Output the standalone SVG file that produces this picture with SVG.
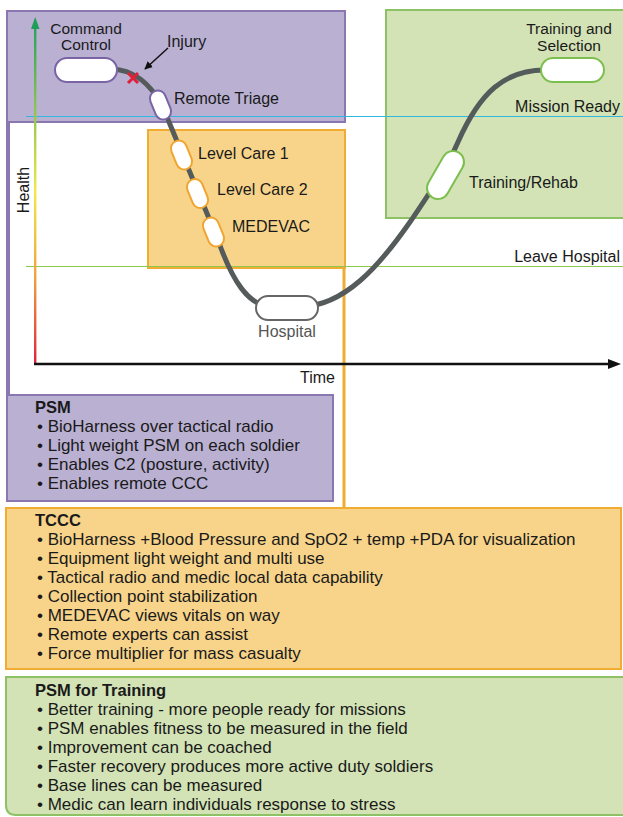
<svg xmlns="http://www.w3.org/2000/svg" width="623" height="817" viewBox="0 0 623 817">
<style>
text{font-family:"Liberation Sans",Arial,sans-serif;fill:#1a1a1a}
.lbl{font-size:16px}
.lbl2{font-size:15.5px}
.body{font-size:17px}
.ttl{font-size:16.5px;font-weight:bold}
.pur{fill:#b9b0d2;stroke:#8a77b1;stroke-width:2}
.org{fill:#f8d48a;stroke:#f1ac34;stroke-width:2}
.grn{fill:#d3e3b6;stroke:#8cc166;stroke-width:2}
.pill{fill:#fff;stroke-width:2}
.pp{stroke:#7a64a6}
.po{stroke:#f0a530}
.pg{stroke:#7cbf4e}
.ph{stroke:#666}
</style>
<defs>
<linearGradient id="ygrad" gradientUnits="userSpaceOnUse" x1="0" y1="18" x2="0" y2="365">
<stop offset="0" stop-color="#1f9e5a"/>
<stop offset="0.5" stop-color="#f0e84a"/>
<stop offset="0.75" stop-color="#f0a040"/>
<stop offset="1" stop-color="#e0203c"/>
</linearGradient>
<marker id="ah" viewBox="0 0 10 10" refX="9" refY="5" markerWidth="8" markerHeight="8" markerUnits="userSpaceOnUse" orient="auto">
<path d="M0,0 L10,5 L0,10 z" fill="#111"/>
</marker>
</defs>
<rect width="623" height="817" fill="#fff"/>
<g id="regions">
<rect class="pur" x="7" y="11" width="338" height="111"/>
<rect x="6" y="122" width="4" height="274" fill="#8a77b1"/>
<rect class="org" x="148" y="130" width="197" height="138"/>
<line x1="344" y1="268" x2="344" y2="509" stroke="#f1ac34" stroke-width="3"/>
<rect class="grn" x="386" y="10" width="240" height="208"/>
</g>
<g id="guides">
<line x1="26" y1="116.5" x2="623" y2="116.5" stroke="#30b8e0" stroke-width="1.2"/>
<line x1="26" y1="266.5" x2="623" y2="266.5" stroke="#8cc850" stroke-width="1.2"/>
<text class="lbl" x="620" y="112" text-anchor="end">Mission Ready</text>
<text class="lbl" x="620" y="262" text-anchor="end">Leave Hospital</text>
</g>
<g id="axes">
<rect x="34" y="26" width="2.4" height="339" fill="url(#ygrad)"/>
<path d="M35.2,17 L39.5,29 L31,29 z" fill="#1f9e5a"/>
<line x1="34" y1="364" x2="610" y2="364" stroke="#111" stroke-width="2.5"/>
<path d="M621,364 L608,359 L608,369 z" fill="#111"/>
<text class="lbl" transform="translate(29,190) rotate(-90)" text-anchor="middle">Health</text>
<text class="lbl" x="335" y="383" text-anchor="end">Time</text>
</g>
<g id="connectors">
<path d="M112,69 C135,70 150,84 162,105 L218,240 C232,280 248,306 272,307 L300,307 C345,306 380,265 410,222 C428,195 445,172 458,142 C480,92 505,70 545,70" fill="none" stroke="#555b5b" stroke-width="5"/>
<line x1="168" y1="48" x2="145" y2="69" stroke="#111" stroke-width="1.5" marker-end="url(#ah)"/>
<path d="M128,73 L138,83 M138,73 L128,83" stroke="#e0203a" stroke-width="3"/>
</g>
<g id="command-control">
<rect class="pill pp" x="55" y="58" width="62" height="24" rx="12"/>
<text class="lbl2" text-anchor="middle"><tspan x="86" y="34">Command</tspan><tspan x="86" y="50">Control</tspan></text>
</g>
<g id="injury">
<text class="lbl" x="167" y="47">Injury</text>
</g>
<g id="remote-triage">
<rect class="pill pp" x="-8" y="-15" width="16" height="30" rx="8" transform="translate(160.5,105) rotate(-22)"/>
<text class="lbl" x="174" y="104">Remote Triage</text>
</g>
<g id="level-care-1">
<rect class="pill po" x="-8" y="-15" width="16" height="30" rx="8" transform="translate(181.5,155) rotate(-22)"/>
<text class="lbl" x="198" y="159">Level Care 1</text>
</g>
<g id="level-care-2">
<rect class="pill po" x="-8" y="-15" width="16" height="30" rx="8" transform="translate(197.5,193.5) rotate(-22)"/>
<text class="lbl" x="217" y="195">Level Care 2</text>
</g>
<g id="medevac">
<rect class="pill po" x="-8" y="-15" width="16" height="30" rx="8" transform="translate(213.5,232) rotate(-22)"/>
<text class="lbl" x="232" y="232">MEDEVAC</text>
</g>
<g id="hospital">
<rect class="pill ph" x="256" y="296" width="62" height="24" rx="12"/>
<text class="lbl" x="287" y="337" text-anchor="middle" style="fill:#555">Hospital</text>
</g>
<g id="training-rehab">
<rect class="pill pg" x="-11" y="-26" width="22" height="52" rx="11" transform="translate(445.5,175) rotate(30)"/>
<text class="lbl" x="469" y="188">Training/Rehab</text>
</g>
<g id="training-selection">
<rect class="pill pg" x="541" y="58" width="63" height="24" rx="12"/>
<text class="lbl2" text-anchor="middle"><tspan x="569" y="34">Training and</tspan><tspan x="569" y="51">Selection</tspan></text>
</g>
<g id="psm">
<rect class="pur" x="7" y="395" width="326" height="106"/>
<text class="ttl" x="35" y="413">PSM</text>
<text class="body" x="37" y="432">• BioHarness over tactical radio</text>
<text class="body" x="37" y="451">• Light weight PSM on each soldier</text>
<text class="body" x="37" y="470">• Enables C2 (posture, activity)</text>
<text class="body" x="37" y="489">• Enables remote CCC</text>
</g>
<g id="tccc">
<rect class="org" x="6" y="508" width="615" height="161"/>
<text class="ttl" x="35" y="526">TCCC</text>
<text class="body" x="37" y="545">• BioHarness +Blood Pressure and SpO2 + temp +PDA for visualization</text>
<text class="body" x="37" y="564">• Equipment light weight and multi use</text>
<text class="body" x="37" y="583">• Tactical radio and medic local data capability</text>
<text class="body" x="37" y="602">• Collection point stabilization</text>
<text class="body" x="37" y="621">• MEDEVAC views vitals on way</text>
<text class="body" x="37" y="640">• Remote experts can assist</text>
<text class="body" x="37" y="659">• Force multiplier for mass casualty</text>
</g>
<g id="psm-training">
<path class="grn" d="M6,677 H630 V815 H16 Q6,815 6,805 Z"/>
<text class="ttl" x="35" y="696">PSM for Training</text>
<text class="body" x="37" y="715">• Better training - more people ready for missions</text>
<text class="body" x="37" y="734">• PSM enables fitness to be measured in the field</text>
<text class="body" x="37" y="753">• Improvement can be coached</text>
<text class="body" x="37" y="772">• Faster recovery produces more active duty soldiers</text>
<text class="body" x="37" y="791">• Base lines can be measured</text>
<text class="body" x="37" y="810">• Medic can learn individuals response to stress</text>
</g>
</svg>
